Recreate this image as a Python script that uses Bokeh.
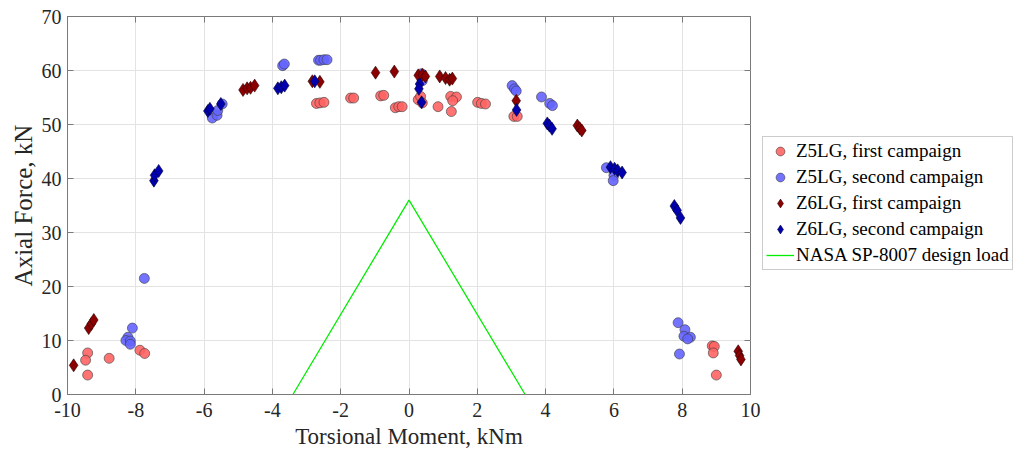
from bokeh.plotting import figure
from bokeh.models import Legend, LegendItem, LinearAxis, FixedTicker, Range1d
from bokeh.embed import file_html
from bokeh.resources import INLINE

# ---- data ----
z5_first_x = [-9.41, -9.47, -9.41, -8.78, -7.88, -7.74, -2.71, -2.61, -2.49, -1.71, -1.62,
              -0.83, -0.74, -0.40, -0.30, -0.20, 0.27, 0.34, 0.39, 0.85, 1.22, 1.39, 1.28, 1.24,
              2.01, 2.12, 2.24, 3.07, 3.17, 8.88, 8.94, 8.91, 9.00]
z5_first_y = [7.7, 6.35, 3.6, 6.7, 8.2, 7.6, 53.9, 54.0, 54.1, 54.9, 54.9,
              55.3, 55.4, 53.1, 53.3, 53.3, 54.6, 55.2, 54.0, 53.3, 55.2, 55.1, 54.4, 52.4,
              54.1, 53.9, 53.8, 51.5, 51.5, 9.0, 8.9, 7.7, 3.6]

z5_second_x = [-8.10, -8.23, -8.29, -8.16, -8.16, -7.75, -5.76, -5.62, -5.60, -5.47,
               -3.70, -3.65, -2.65, -2.59, -2.49, -2.40, 0.37, 0.39, 3.02, 3.09, 3.14,
               3.88, 4.12, 4.20, 5.78, 6.00, 5.98, 7.88, 8.08, 8.05, 8.24, 8.16, 7.92]
z5_second_y = [12.3, 10.6, 10.0, 9.9, 9.3, 21.5, 51.2, 51.7, 52.6, 53.8,
               60.9, 61.2, 61.9, 61.9, 62.0, 62.0, 59.4, 58.1, 57.2, 56.6, 56.2,
               55.1, 53.9, 53.5, 42.0, 40.6, 39.6, 13.3, 12.0, 10.8, 10.6, 10.3, 7.5]

z6_first_x = [-9.82, -9.38, -9.30, -9.23, -4.86, -4.74, -4.64, -4.52, -2.83, -2.61,
              -0.98, -0.43, 0.27, 0.39, 0.48, 0.90, 1.07, 1.19, 1.27, 3.14,
              4.93, 5.00, 5.06, 9.64, 9.68, 9.72]
z6_first_y = [5.4, 12.3, 13.1, 13.8, 56.4, 56.7, 56.8, 57.2, 58.0, 57.9,
              59.6, 59.8, 59.1, 59.2, 58.9, 58.9, 58.6, 58.3, 58.5, 54.4,
              49.8, 49.3, 48.9, 8.0, 7.2, 6.5]

z6_second_x = [-7.47, -7.45, -7.33, -5.89, -5.83, -5.51, -3.84, -3.74, -3.64, -2.76,
               0.31, 0.29, 0.37, 3.15, 4.05, 4.11, 4.19, 5.90, 6.02, 6.11, 6.24,
               7.77, 7.85, 7.95]
z6_second_y = [39.6, 40.6, 41.4, 52.5, 52.9, 53.8, 56.7, 56.9, 57.2, 58.0,
               57.5, 56.6, 54.1, 52.7, 50.2, 49.8, 49.2, 42.1, 41.8, 41.5, 41.1,
               34.9, 34.1, 32.7]

nasa_x = [-3.4, 0.0, 3.4]
nasa_y = [0.0, 36.0, 0.0]

x_ticks = [-10, -8, -6, -4, -2, 0, 2, 4, 6, 8, 10]
x_tick_labels = ["-10", "-8", "-6", "-4", "-2", "0", "2", "4", "6", "8", "10"]
y_ticks = [0, 10, 20, 30, 40, 50, 60, 70]
y_tick_labels = ["0", "10", "20", "30", "40", "50", "60", "70"]

series_labels = ["Z5LG, first campaign", "Z5LG, second campaign",
                 "Z6LG, first campaign", "Z6LG, second campaign",
                 "NASA SP-8007 design load"]

FONT = "Liberation Serif"
TXT = "#262626"
AX = "#7a7a7a"

p = figure(width=1013, height=454, frame_width=683, frame_height=378,
           output_backend="svg", toolbar_location=None,
           x_range=Range1d(-10, 10), y_range=Range1d(0, 70),
           min_border_left=67, min_border_right=263, min_border_top=16, min_border_bottom=60)
p.background_fill_color = "white"
p.border_fill_color = "white"
p.outline_line_color = AX
p.outline_line_width = 1

for ax, ticks, labels in ((p.xaxis[0], x_ticks, x_tick_labels), (p.yaxis[0], y_ticks, y_tick_labels)):
    ax.ticker = FixedTicker(ticks=ticks)
    ax.major_label_overrides = {t: l for t, l in zip(ticks, labels)}
    ax.major_label_text_font = FONT
    ax.major_label_text_font_size = "20px"
    ax.major_label_text_color = TXT
    ax.axis_label_text_font = FONT
    ax.axis_label_text_font_style = "normal"
    ax.axis_label_text_color = TXT
    ax.axis_line_color = AX
    ax.major_tick_line_color = AX
    ax.major_tick_in = 6
    ax.major_tick_out = 0
    ax.minor_tick_line_color = None
p.xaxis[0].axis_label = "Torsional Moment, kNm"
p.yaxis[0].axis_label = "Axial Force, kN"
p.xaxis[0].axis_label_text_font_size = "23px"
p.yaxis[0].axis_label_text_font_size = "25px"
p.xaxis[0].major_label_standoff = 8
p.yaxis[0].major_label_standoff = 6
p.xaxis[0].axis_label_standoff = 4
p.yaxis[0].axis_label_standoff = 2

top_axis = LinearAxis(ticker=FixedTicker(ticks=x_ticks), major_label_text_font_size="0px",
                      major_label_standoff=0, axis_line_color=AX, major_tick_line_color=AX,
                      major_tick_in=6, major_tick_out=0, minor_tick_line_color=None)
p.add_layout(top_axis, "above")

# right-hand inner tick marks (box style), drawn at the y tick values
tick_len = 20.0 * 6 / 683
p.segment(x0=[10.0] * len(y_ticks), y0=y_ticks, x1=[10.0 - tick_len] * len(y_ticks), y1=y_ticks,
          line_color=AX, line_width=1)

p.xgrid.ticker = FixedTicker(ticks=x_ticks)
p.ygrid.ticker = FixedTicker(ticks=y_ticks)
p.xgrid.grid_line_color = "#e3e3e3"
p.ygrid.grid_line_color = "#e3e3e3"

r1 = p.scatter(z5_first_x, z5_first_y, marker="circle", size=10, fill_color="#ff6464",
               line_color="#3a3a3a", line_width=0.6, fill_alpha=0.9)
r2 = p.scatter(z5_second_x, z5_second_y, marker="circle", size=10, fill_color="#6464ff",
               line_color="#3a3a3a", line_width=0.6, fill_alpha=0.9)
r3 = p.scatter(z6_first_x, z6_first_y, marker="diamond", size=13, fill_color="#8b0000",
               line_color="#2a0000", line_width=0.6)
r4 = p.scatter(z6_second_x, z6_second_y, marker="diamond", size=13, fill_color="#0000b0",
               line_color="#00002a", line_width=0.6)
r5 = p.line(nasa_x, nasa_y, line_color="#00ee00", line_width=1.3)

legend = Legend(items=[LegendItem(label=series_labels[i], renderers=[r])
                       for i, r in enumerate([r1, r2, r3, r4, r5])],
                location=(12, 124))
legend.label_text_font = FONT
legend.label_text_font_size = "19px"
legend.label_text_color = "black"
legend.glyph_width = 28
legend.glyph_height = 22
legend.label_height = 22
legend.spacing = 4
legend.padding = 3
legend.margin = 0
legend.label_standoff = 2
legend.border_line_color = "#999999"
legend.border_line_width = 1
legend.background_fill_color = "white"
legend.background_fill_alpha = 1
p.add_layout(legend, "right")

open("out.html", "w").write(file_html(p, INLINE))
